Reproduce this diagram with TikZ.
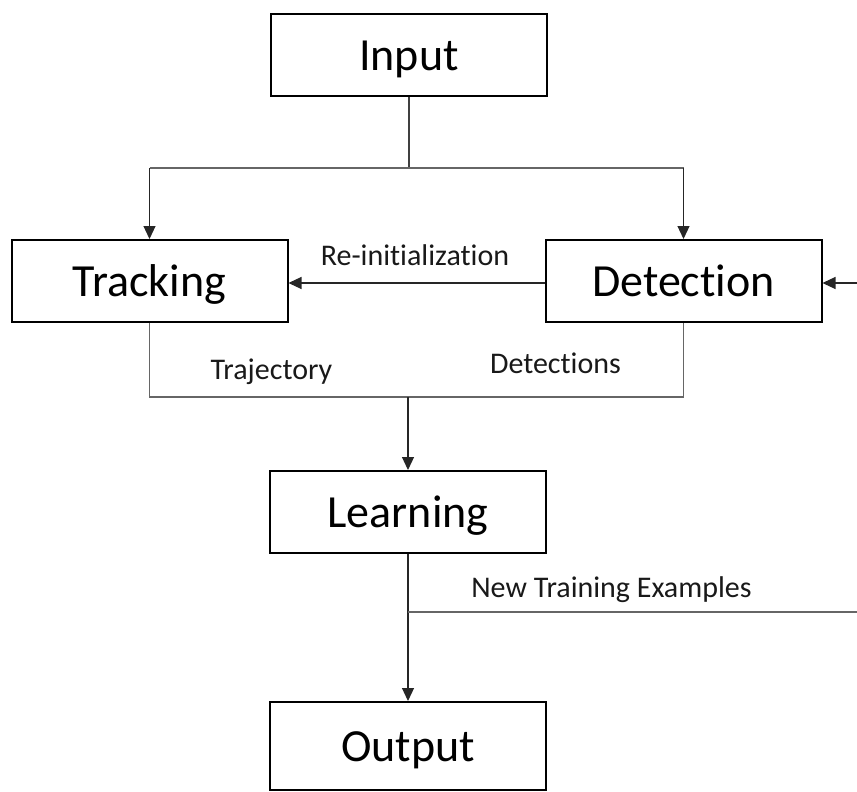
\documentclass[tikz,border=0pt]{standalone}
\usepackage{fontspec}
\setmainfont{Carlito}[Ligatures={NoCommon,NoDiscretionary,NoContextual}]
\usetikzlibrary{arrows.meta}
\begin{document}
\begin{tikzpicture}[x=1pt,y=-1pt,
  box/.style={draw=black,line width=2pt,minimum width=276pt,minimum height=82pt,inner sep=0pt,text height=31pt,text depth=0pt,font=\fontsize{46}{50}\selectfont},
  conn/.style={draw=black!60,line width=1.2pt},
  arr/.style={draw=black!85,line width=1.2pt,-{Triangle[length=13pt,width=12pt]}},
  lbl/.style={font=\fontsize{30}{34}\selectfont,inner sep=0pt,anchor=base,text=black!90}]
\useasboundingbox (0,0) rectangle (857,792);
\node[box] (input) at (409,55) {Input};
\node[box] (tracking) at (149.5,281) {Tracking};
\node[box] (detection) at (683.5,281) {Detection};
\node[box] (learning) at (408,512) {Learning};
\node[box,minimum height=88pt] (output) at (408,746) {Output};
\coordinate (split) at (409,168);
\coordinate (merge) at (408,397);
\coordinate (fb) at (408,612);
\coordinate (fbend) at (857,612);
\coordinate (rin) at (857,283);
% input split
\draw[conn,draw=black!75] (input.south) -- (split);
\draw[conn] (tracking.north |- split) -- (detection.north |- split);
\draw[arr] (tracking.north |- split) -- (tracking.north);
\draw[arr] (detection.north |- split) -- (detection.north);
% reinit
\draw[arr] (detection.west |- rin) -- (tracking.east |- rin);
\node[lbl] (reinit) at (415,265) {Re-initialization};
\draw[arr] (rin) -- (detection.east |- rin);
% merge
\draw[conn] (tracking.south) -- (tracking.south |- merge) -- (detection.south |- merge) -- (detection.south);
\draw[arr] (merge) -- (learning.north);
\node[lbl] (traj) at (271.5,379) {Trajectory};
\node[lbl] (dets) at (555.5,373) {Detections};
% learning to output
\draw[arr] (learning.south) -- (output.north);
\draw[conn] (fb) -- (fbend);
\node[lbl] (nte) at (611.5,597) {New Training Examples};
\end{tikzpicture}
\end{document}
